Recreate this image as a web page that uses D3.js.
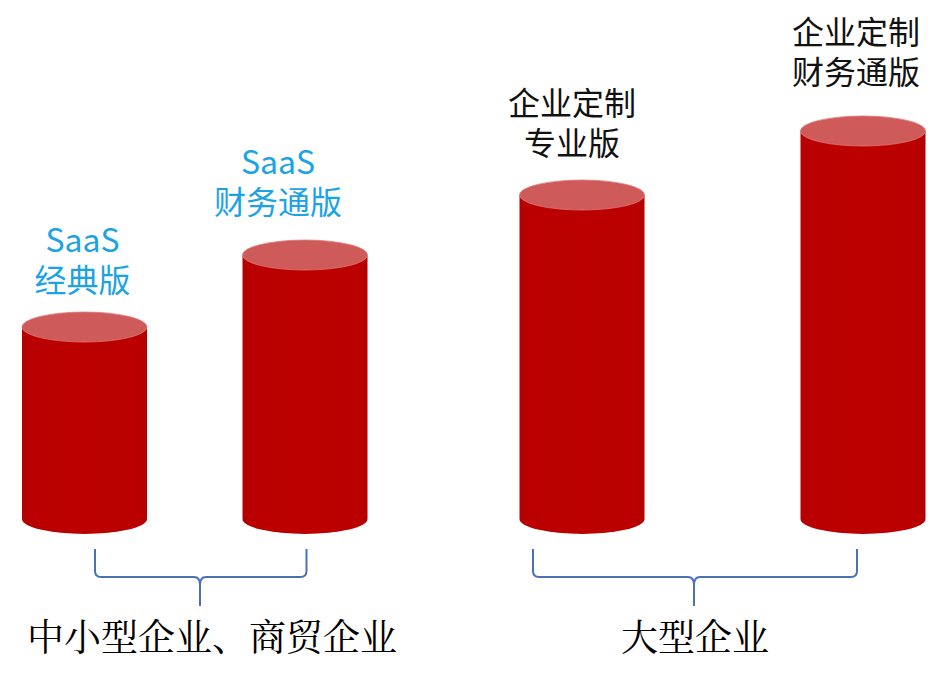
<!DOCTYPE html>
<html><head><meta charset="utf-8">
<script src="https://cdn.jsdelivr.net/npm/d3@7"></script>
<style>body{margin:0;background:#fff}svg{display:block}</style>
</head><body>
<svg id="c" width="952" height="681"></svg>
<script>
// ---- data ----
const categories = ["SaaS经典版", "SaaS财务通版", "企业定制专业版", "企业定制财务通版"];
const values = [48, 66, 81, 97];
const labelLines = [["SaaS", "经典版"], ["SaaS", "财务通版"], ["企业定制", "专业版"], ["企业定制", "财务通版"]];
const labelColors = ["#1ca3e3", "#1ca3e3", "#111111", "#111111"];
const groupNames = ["中小型企业、商贸企业", "大型企业"];
const groupMembers = [[0, 1], [2, 3]];

// ---- layout ----
const svg = d3.select("#c");
const x = d3.scaleOrdinal().domain(categories).range([84.5, 305, 582, 863]);
const y = d3.scaleLinear().domain([0, 100]).range([519, 119]);
const bw = 125, ry = 15;
const labelDx = [-2, -27, -10, -7];
const labelDy = [-35, -41, -40, -47];

const defs = svg.append("defs");
const g = defs.append("linearGradient").attr("id", "side").attr("x1", 0).attr("x2", 1);
[[0, "#b40000"], [0.08, "#ba0000"], [0.5, "#bc0000"], [0.92, "#ba0000"], [1, "#b40000"]]
  .forEach(([o, c]) => g.append("stop").attr("offset", o).attr("stop-color", c));

const bars = svg.append("g").selectAll("g").data(categories).join("g");
bars.each(function (c, i) {
  const cx = x(c), yt = y(values[i]), yb = y(0);
  const sel = d3.select(this);
  sel.append("path")
    .attr("d", `M${cx - bw / 2},${yt} L${cx - bw / 2},${yb} A${bw / 2},${ry} 0 0 0 ${cx + bw / 2},${yb} L${cx + bw / 2},${yt} Z`)
    .attr("fill", "url(#side)");
  sel.append("ellipse").attr("cx", cx).attr("cy", yt).attr("rx", bw / 2).attr("ry", ry)
    .attr("fill", "#cf5a5a").attr("stroke", "#e27a7a").attr("stroke-width", 0.8);
});

// labels
const labels = svg.append("g").selectAll("text").data(categories).join("text")
  .attr("x", (c, i) => x(c) + labelDx[i])
  .attr("y", (c, i) => y(values[i]) + labelDy[i])
  .attr("text-anchor", "middle")
  .attr("fill", (c, i) => labelColors[i])
  .style("font-family", "'Noto Sans CJK SC', 'Noto Sans', sans-serif")
  .style("font-size", "32px");
labels.each(function (c, i) {
  const t = d3.select(this);
  const lines = labelLines[i];
  lines.forEach((l, k) => {
    t.append("tspan").attr("x", x(c) + labelDx[i])
      .attr("dy", k === 0 ? -(lines.length - 1) * 40 : 40).text(l);
  });
});

// braces
const braceTop = 549, braceMid = 577, braceTip = 606;
const braceCx = [200, 694];
const braceOff = [[10.5, 1.5], [-49, -6]];
const braceG = svg.append("g").attr("fill", "none").attr("stroke", "#4a72b4").attr("stroke-width", 2);
groupMembers.forEach((m, i) => {
  const x0 = x(categories[m[0]]) + braceOff[i][0];
  const x1 = x(categories[m[1]]) + braceOff[i][1];
  const cx = braceCx[i], r = 6;
  const d = `M${x0},${braceTop} L${x0},${braceMid - r} Q${x0},${braceMid} ${x0 + r},${braceMid}` +
    ` L${cx - r},${braceMid} Q${cx},${braceMid} ${cx},${braceMid + r + 2} L${cx},${braceTip}` +
    ` M${cx},${braceMid + r + 2} Q${cx},${braceMid} ${cx + r},${braceMid} L${x1 - r},${braceMid}` +
    ` Q${x1},${braceMid} ${x1},${braceMid - r} L${x1},${braceTop}`;
  braceG.append("path").attr("d", d);
});

// group names
const groupTextX = [212, 695];
svg.append("g").selectAll("text").data(groupNames).join("text")
  .attr("x", (d, i) => groupTextX[i])
  .attr("y", 651)
  .attr("text-anchor", "middle")
  .attr("fill", "#000")
  .style("font-family", "'Noto Serif CJK SC', 'Noto Sans CJK SC', serif")
  .style("font-size", "37px")
  .text(d => d);
</script>
</body></html>
